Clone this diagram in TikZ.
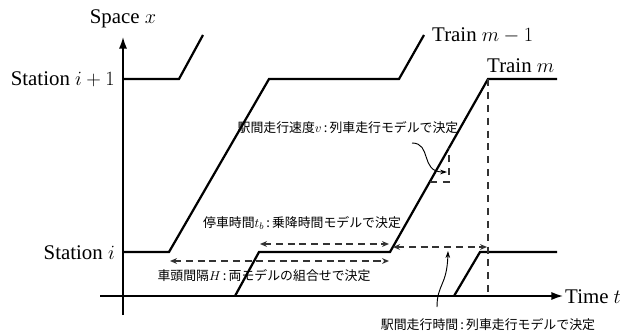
\documentclass[tikz,border=0pt]{standalone}
\usepackage{fontspec}
\setmainfont{Liberation Serif}
\newfontfamily\jpfont{Noto Sans CJK JP}
\usepackage{tkz-euclide}
\usepackage{tikz}
\usepackage{amsmath}
\usetikzlibrary{arrows.meta}

\tikzset{
  train/.style={line width=1.9pt},
  axis/.style={line width=1.4pt,-{Latex[length=10pt,width=7pt]}},
  gap/.style={dash pattern=on 6pt off 4pt,line width=1pt,black!80,
    {Stealth[length=6pt,width=5pt]}-{Stealth[length=6pt,width=5pt]}},
  guide/.style={dash pattern=on 6pt off 5pt,line width=1pt,black!80},
  lbl/.style={font=\fontsize{17.8}{21}\selectfont,inner sep=0pt},
  jplbl/.style={font=\jpfont\fontsize{11}{13}\selectfont,inner sep=0pt},
  callout/.style={line width=0.8pt,-{Stealth[length=6pt,width=4pt]}}
}

\begin{document}
\begin{tikzpicture}[x=0.03cm,y=-0.03cm]
    \useasboundingbox (0,0) rectangle (628,335);
    % ASSI
    \tkzDefPoints{123/315/V0,123/37/V1,100/296/H0,563/296/H1}
    \draw[axis] (V0) -- (V1);
    \draw[axis] (H0) -- (H1);
    % TRENI
    \tkzDefPoints{123/79/A1,179/79/A2,203/35/A3}
    \tkzDefPoints{123/252/B1,169/252/B2,269/79/B3,399/79/B4,424/35/B5}
    \tkzDefPoints{235/296/C1,259/252/C2,390/252/C3,488/79/C4,557/79/C5}
    \tkzDefPoints{454/296/D1,480/252/D2,557/252/D3}
    \draw[train] (A1) -- (A2) -- (A3);
    \draw[train] (B1) -- (B2) -- (B3) -- (B4) -- (B5);
    \draw[train] (C1) -- (C2) -- (C3) -- (C4) -- (C5);
    \draw[train] (D1) -- (D2) -- (D3);
    \tkzDefPoints{488/296/E,430/182/F1,449/182/F2,449/148/F3}
    \draw[guide] (C4) -- (E);
    \draw[guide] (F1) -- (F2) -- (F3); %PENDENZA
    % INTERVALLI
    \tkzDefPoints{260/244/G1,389/244/G2,170/261/K1,389/261/K2,393/247/L1,487/247/L2}
    \draw[gap] (G1) -- (G2);
    \draw[gap] (K1) -- (K2);
    \draw[gap] (L1) -- (L2);
    \tkzDefPoints{412/143/M1,447/172/M2,437/307/N1,448/251/N2}
    \draw[callout] (M1) .. controls (432,143) and (420,172) .. (M2);
    \draw[callout] (N1) .. controls (437,284) and (447,286) .. (N2);
    % ETICHETTE
    \node[lbl] (spc) at (123,19) {Space $x$};
    \node[lbl,anchor=east] (sta2) at (115,79) {Station $i+1$};
    \node[lbl,anchor=east] (sta1) at (115,253) {Station $i$};
    \node[lbl,anchor=west] (trm1) at (432,35) {Train $m-1$};
    \node[lbl,anchor=west] (trm) at (487,66) {Train $m$};
    \node[lbl,anchor=west] (tim) at (565,297) {Time $t$};
    \node[jplbl] (spd) at (348,128) {駅間走行速度$v$\,:\,列車走行モデルで決定};
    \node[jplbl] (dwl) at (302,223) {停車時間$t_b$\,:\,乗降時間モデルで決定};
    \node[jplbl] (hdw) at (264,276) {車頭間隔$H$\,:\,両モデルの組合せで決定};
    \node[jplbl] (run) at (488,325) {駅間走行時間\,:\,列車走行モデルで決定};
\end{tikzpicture}
\end{document}
